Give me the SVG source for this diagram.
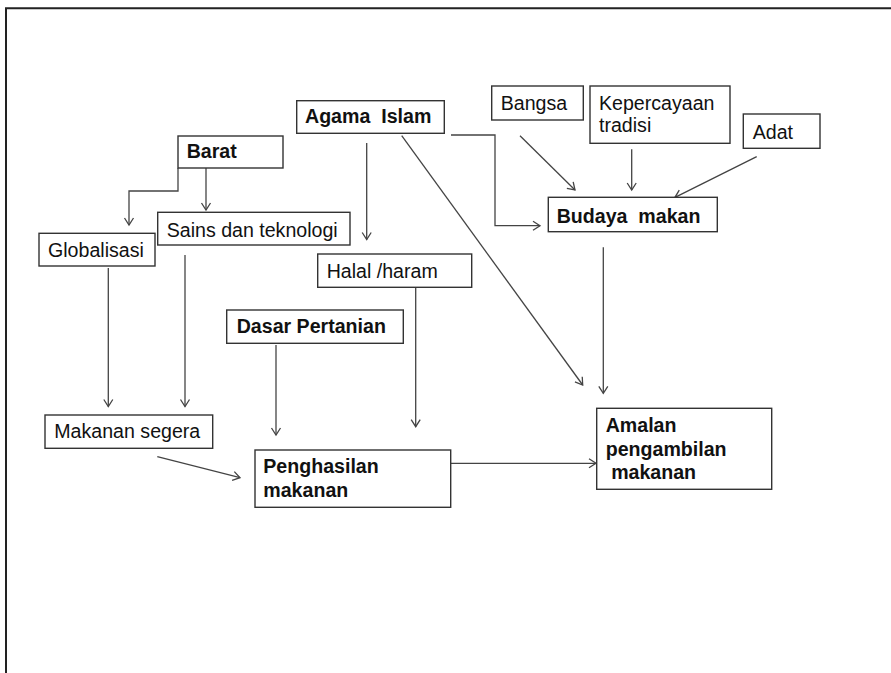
<svg xmlns="http://www.w3.org/2000/svg" width="891" height="673" viewBox="0 0 891 673">
<style>
.box{fill:#fff;stroke:#333;stroke-width:1.4}
.t{font-family:"Liberation Sans",Arial,sans-serif;font-size:19.6px;fill:#111}
.b{font-weight:bold}
.c{fill:none;stroke:#444;stroke-width:1.3}
</style>
<defs>
<marker id="a" markerUnits="userSpaceOnUse" markerWidth="12" markerHeight="12" refX="10" refY="6" orient="auto" viewBox="0 0 12 12">
<path d="M3,1.5 L10,6 L3,10.5" fill="none" stroke="#444" stroke-width="1.3"/>
</marker>
</defs>
<rect x="0" y="0" width="891" height="673" fill="#fff"/>
<path d="M6,674 V8.3 H892" fill="none" stroke="#222" stroke-width="2"/>
<g id="connectors" class="c">
<path d="M178,168 V191 H129 V225" marker-end="url(#a)"/>
<path d="M206,166 V210" marker-end="url(#a)"/>
<path d="M108.3,268 V406.5" marker-end="url(#a)"/>
<path d="M185,255 V406.5" marker-end="url(#a)"/>
<path d="M366.7,143 V239.5" marker-end="url(#a)"/>
<path d="M451,135 H495 V225.7 H540" marker-end="url(#a)"/>
<path d="M401.7,135.7 L582.7,385" marker-end="url(#a)"/>
<path d="M520,135.7 L575,190" marker-end="url(#a)"/>
<path d="M631.7,149.3 V190" marker-end="url(#a)"/>
<path d="M756.7,156.7 L675,197.3" marker-end="url(#a)"/>
<path d="M603.3,247.3 V393.3" marker-end="url(#a)"/>
<path d="M276,345 V435" marker-end="url(#a)"/>
<path d="M415.7,288 V426.7" marker-end="url(#a)"/>
<path d="M157.3,456.7 L240,477.7" marker-end="url(#a)"/>
<path d="M451,463.3 H596" marker-end="url(#a)"/>
</g>
<g id="barat"><rect class="box" x="178" y="136" width="105" height="32"/><text class="t b" x="186.7" y="158">Barat</text></g>
<g id="sains"><rect class="box" x="157.7" y="212.3" width="192.3" height="32.7"/><text class="t" x="166.7" y="236.5">Sains dan teknologi</text></g>
<g id="globalisasi"><rect class="box" x="39" y="233.3" width="116" height="32.7"/><text class="t" x="48" y="256.5">Globalisasi</text></g>
<g id="agama"><rect class="box" x="296.7" y="100.7" width="147.6" height="32.6"/><text class="t b" x="305" y="123.3" xml:space="preserve">Agama  Islam</text></g>
<g id="halal"><rect class="box" x="317.7" y="254" width="154" height="33.3"/><text class="t" x="326.7" y="278">Halal /haram</text></g>
<g id="bangsa"><rect class="box" x="491.7" y="86" width="91.6" height="34"/><text class="t" x="500.7" y="110">Bangsa</text></g>
<g id="kepercayaan"><rect class="box" x="590" y="86" width="140" height="57.3"/><text class="t" x="599" y="110">Kepercayaan</text><text class="t" x="599" y="132">tradisi</text></g>
<g id="adat"><rect class="box" x="743.3" y="114" width="76.7" height="34.3"/><text class="t" x="752.7" y="139">Adat</text></g>
<g id="budaya"><rect class="box" x="548.3" y="197.3" width="169" height="34.4"/><text class="t b" x="556.7" y="222.5" xml:space="preserve">Budaya  makan</text></g>
<g id="dasar"><rect class="box" x="226.7" y="310" width="176.6" height="33.3"/><text class="t b" x="236.7" y="333.3">Dasar Pertanian</text></g>
<g id="makanan-segera"><rect class="box" x="45" y="415" width="167.7" height="33.3"/><text class="t" x="54.3" y="438.3">Makanan segera</text></g>
<g id="penghasilan"><rect class="box" x="255" y="450" width="195.7" height="57.3"/><text class="t b" x="263.3" y="473.3">Penghasilan</text><text class="t b" x="263.3" y="496.5">makanan</text></g>
<g id="amalan"><rect class="box" x="596.7" y="408.3" width="175" height="81"/><text class="t b" x="605.7" y="431.7">Amalan</text><text class="t b" x="605.7" y="456">pengambilan</text><text class="t b" x="605.7" y="479.3" xml:space="preserve"> makanan</text></g>
</svg>
